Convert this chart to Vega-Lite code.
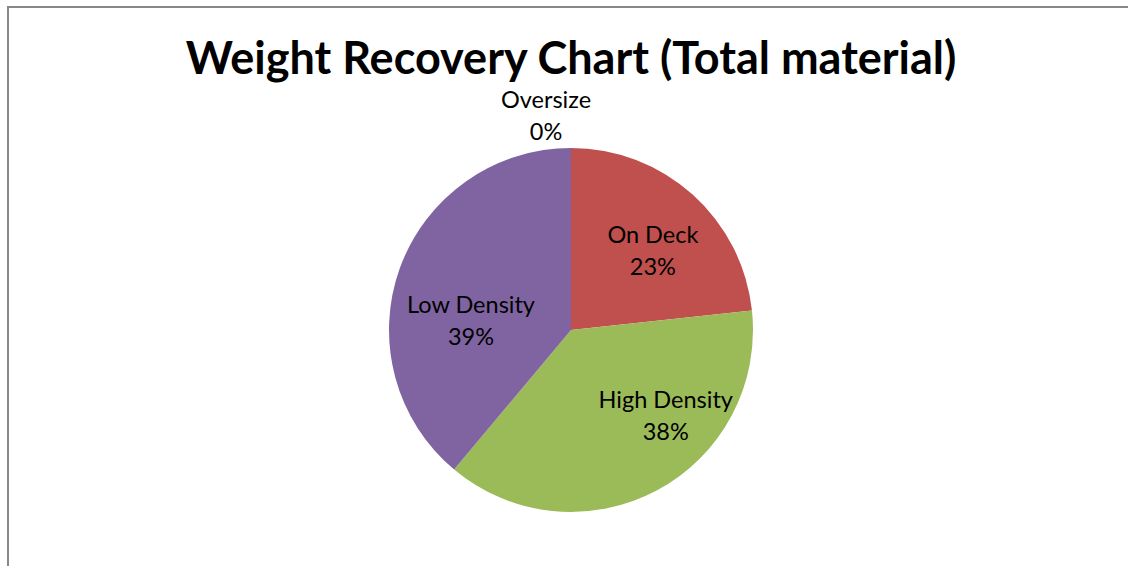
{
  "$schema": "https://vega.github.io/schema/vega-lite/v6.json",
  "autosize": "none",
  "width": 1126,
  "height": 646,
  "padding": {"left": 8, "top": 7, "right": 0, "bottom": 0},
  "background": "white",
  "view": {"stroke": "#888888", "strokeWidth": 2, "fill": "white"},
  "title": {
    "text": "Weight Recovery Chart (Total material)",
    "font": "Lato",
    "fontSize": 45,
    "fontWeight": "bold",
    "color": "black",
    "anchor": "middle",
    "baseline": "alphabetic",
    "offset": -70,
    "dy": 42
  },
  "data": {
    "values": [
      {"category": "Oversize", "value": 0, "ord": 0},
      {"category": "On Deck", "value": 23.3, "ord": 1},
      {"category": "High Density", "value": 37.8, "ord": 2},
      {"category": "Low Density", "value": 38.9, "ord": 3}
    ]
  },
  "transform": [
    {"stack": "value", "groupby": [], "sort": [{"field": "ord", "order": "ascending"}], "as": ["v0", "v1"]},
    {"calculate": "(datum.v0 + datum.v1) / 2", "as": "mid"},
    {"calculate": "[datum.category, format(datum.value, '.0f') + '%']", "as": "label"}
  ],
  "layer": [
    {
      "mark": {"type": "arc", "outerRadius": 182},
      "encoding": {
        "theta": {"field": "v0", "type": "quantitative", "scale": {"domain": [0, 100]}},
        "theta2": {"field": "v1"},
        "color": {
          "field": "category",
          "type": "nominal",
          "scale": {"domain": ["Oversize", "On Deck", "High Density", "Low Density"], "range": ["#4F81BD", "#C0504D", "#9BBB59", "#8064A2"]},
          "legend": null
        }
      }
    },
    {
      "transform": [{"filter": "datum.category === 'Oversize'"}],
      "mark": {"type": "text", "radius": 214, "dx": -25, "dy": -15, "font": "Lato", "fontSize": 23.5, "lineHeight": 32, "color": "black", "baseline": "middle", "align": "center"},
      "encoding": {"theta": {"field": "mid", "type": "quantitative"}, "text": {"field": "label"}}
    },
    {
      "transform": [{"filter": "datum.category === 'On Deck'"}],
      "mark": {"type": "text", "radius": 115, "dx": 5, "dy": -8, "font": "Lato", "fontSize": 23.5, "lineHeight": 32, "color": "black", "baseline": "middle", "align": "center"},
      "encoding": {"theta": {"field": "mid", "type": "quantitative"}, "text": {"field": "label"}}
    },
    {
      "transform": [{"filter": "datum.category === 'High Density'"}],
      "mark": {"type": "text", "radius": 127, "dx": 35, "dy": -41, "font": "Lato", "fontSize": 23.5, "lineHeight": 32, "color": "black", "baseline": "middle", "align": "center"},
      "encoding": {"theta": {"field": "mid", "type": "quantitative"}, "text": {"field": "label"}}
    },
    {
      "transform": [{"filter": "datum.category === 'Low Density'"}],
      "mark": {"type": "text", "radius": 100, "dx": -6, "dy": 10, "font": "Lato", "fontSize": 23.5, "lineHeight": 32, "color": "black", "baseline": "middle", "align": "center"},
      "encoding": {"theta": {"field": "mid", "type": "quantitative"}, "text": {"field": "label"}}
    }
  ]
}
